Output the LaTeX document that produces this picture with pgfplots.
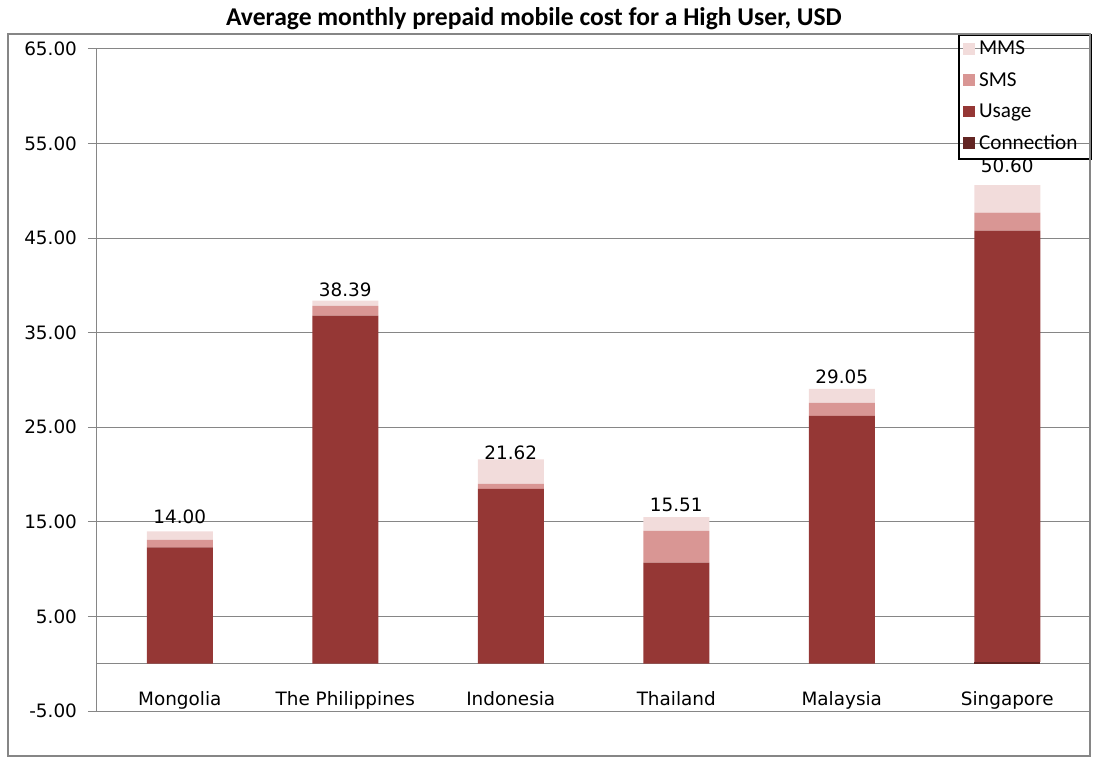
\documentclass[border=0pt]{standalone}
\usepackage{pgfplots}
\pgfplotsset{compat=1.18}
\usepackage{fontspec}
\setmainfont{DejaVu Sans}
\newfontfamily\carlito{Carlito}
\definecolor{mms}{HTML}{F2DCDB}
\definecolor{sms}{HTML}{D99694}
\definecolor{usage}{HTML}{953735}
\definecolor{conn}{HTML}{632523}
\definecolor{gridgray}{HTML}{868686}
\newcommand\lowerlabel[1]{\raisebox{-2.5pt}[0pt][0pt]{#1}}
\begin{document}
\begin{tikzpicture}
\useasboundingbox (-48.5pt,-25pt) rectangle (499pt,355.5pt);
\begin{axis}[
  at={(0,0)}, anchor=south west,
  scale only axis, width=496.5pt, height=331pt,
  ybar stacked, bar width=33pt,
  xmin=-0.5, xmax=5.5, ymin=-5, ymax=65,
  xtick={0,...,5},
  xticklabels={Mongolia,The Philippines,Indonesia,Thailand,Malaysia,Singapore},
  axis x line*=bottom, x axis line style={draw=none},
  axis y line*=left, y axis line style={-, draw=gridgray, line width=0.5pt},
  xtick style={draw=none},
  ytick style={draw=gridgray, line width=0.5pt},
  ytick align=outside, xtick align=inside,
  major tick length=4.5pt,
  x tick label style={anchor=base, yshift=3pt, font=\fontsize{9.2}{11}\selectfont},
  y tick label style={font=\fontsize{9.2}{11}\selectfont, xshift=-2pt,
     /pgf/number format/.cd, fixed, fixed zerofill, precision=2, assume math mode=true},
  ytick={-5,5,...,65},
  ymajorgrids, grid style={draw=gridgray, line width=0.5pt},
  extra y ticks={0}, extra y tick labels={},
  extra y tick style={major tick length=0pt, grid=major},
  title={Average monthly prepaid mobile cost for a High User, USD},
  title style={font=\carlito\bfseries\fontsize{12.8}{15}\selectfont, at={(0.44,1)}, anchor=center, yshift=9pt},
  legend style={at={(0.8671,1.0227)}, anchor=north west, draw=black, line width=1pt, fill=none,
     font=\carlito\fontsize{10.6}{12}\selectfont, row sep=3.3pt, inner xsep=2pt, inner ysep=1pt,
     nodes={xshift=4pt, text width=52pt}},
  legend cell align=left,
  reverse legend,
  legend image code/.code={\fill[#1] (0pt,-2.6pt) rectangle (6pt,3.2pt);},
  nodes near coords style={font=\fontsize{9.2}{11}\selectfont, anchor=south, yshift=2.5pt},
]
\addplot[fill=conn, draw=none] coordinates {(0,0) (1,0) (2,0) (3,0) (4,0) (5,0.2)};
\addlegendentry{Connection}
\addplot[fill=usage, draw=none] coordinates {(0,12.3) (1,36.8) (2,18.5) (3,10.7) (4,26.22) (5,45.6)};
\addlegendentry{Usage}
\addplot[fill=sms, draw=none] coordinates {(0,0.8) (1,1.05) (2,0.53) (3,3.35) (4,1.37) (5,1.91)};
\addlegendentry{SMS}
\addplot[fill=mms, draw=none, nodes near coords, point meta=explicit symbolic] coordinates {(0,0.9) [14.00] (1,0.54) [\lowerlabel{38.39}] (2,2.59) [21.62] (3,1.46) [15.51] (4,1.46) [29.05] (5,2.89) [\raisebox{7pt}{50.60}]};
\addlegendentry{MMS}
\end{axis}
\draw[gridgray, line width=1pt] (-44.5pt,-22.5pt) rectangle (496.5pt,338.5pt);
\end{tikzpicture}
\end{document}
